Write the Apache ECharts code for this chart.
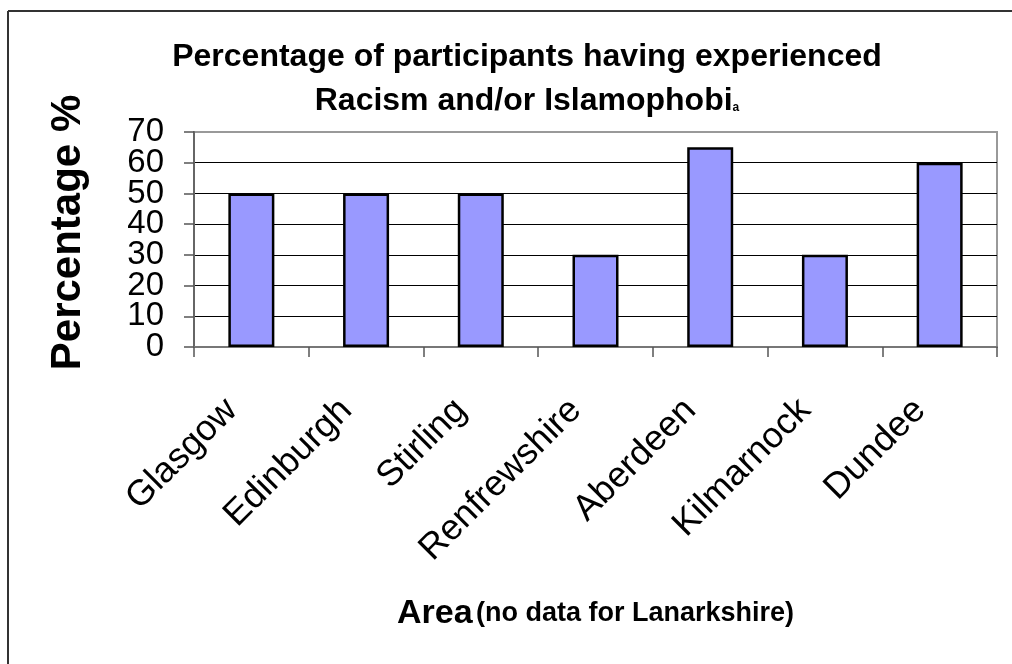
<!DOCTYPE html>
<html>
<head>
<meta charset="utf-8">
<script src="https://cdn.jsdelivr.net/npm/echarts@6/dist/echarts.min.js"></script>
<style>
  html, body { margin: 0; padding: 0; background: #fff; }
  #chart { width: 1012px; height: 664px; }
</style>
</head>
<body>
<div id="chart"></div>
<script>
// Survey areas and share of participants reporting racism and/or Islamophobia
const areas = ['Glasgow', 'Edinburgh', 'Stirling', 'Renfrewshire', 'Aberdeen', 'Kilmarnock', 'Dundee'];
const percentages = [50, 50, 50, 30, 65, 30, 60];
const yTicks = [0, 10, 20, 30, 40, 50, 60, 70];

const FONT = '"Liberation Sans", Arial, Helvetica, sans-serif';
const Y_MIN = yTicks[0];
const Y_MAX = yTicks[yTicks.length - 1];
const Y_STEP = yTicks[1] - yTicks[0];
const isEnd = v => v === Y_MIN || v === Y_MAX;

const chart = echarts.init(document.getElementById('chart'), null, { renderer: 'canvas' });

// gridlines black, except the top one which blends with the grey frame
const splitColors = yTicks.map((v, i) => (i === yTicks.length - 1 ? '#999999' : '#000000'));

const yLabelStyle = { margin: 30, fontFamily: FONT, fontSize: 33, color: '#000' };

chart.setOption({
  backgroundColor: '#ffffff',
  animation: false,
  title: {
    left: 522,
    top: 30,
    textAlign: 'center',
    text: '{t|Percentage of participants having experienced}\n{t|Racism and/or Islamophobi}{s|a}',
    textStyle: {
      rich: {
        t: { fontFamily: FONT, fontWeight: 'bold', fontSize: 32, color: '#000', lineHeight: 44 },
        s: { fontFamily: FONT, fontWeight: 'bold', fontSize: 12, color: '#000', verticalAlign: 'middle', padding: [14, 0, 0, 0] }
      }
    }
  },
  grid: {
    left: 194,
    right: 15,
    top: 132,
    bottom: 317,
    show: true,
    borderColor: '#999999',
    borderWidth: 2,
    backgroundColor: 'transparent'
  },
  xAxis: {
    type: 'category',
    data: areas,
    boundaryGap: true,
    name: '{a|Area} {b|(no data for Lanarkshire)}',
    nameLocation: 'middle',
    nameGap: 250,
    nameMoveOverlap: false,
    nameTextStyle: {
      rich: {
        a: { fontFamily: FONT, fontWeight: 'bold', fontSize: 34, color: '#000' },
        b: { fontFamily: FONT, fontWeight: 'bold', fontSize: 27, color: '#000' }
      }
    },
    axisLine: { show: true, lineStyle: { color: '#777777', width: 2 } },
    axisTick: { show: true, length: 10, alignWithLabel: false, lineStyle: { color: '#555555', width: 1.5 } },
    axisLabel: {
      rotate: 45,
      margin: 38,
      padding: [0, 28, 0, 0],
      fontFamily: FONT,
      fontSize: 36,
      color: '#000',
      interval: 0
    },
    splitLine: { show: false }
  },
  yAxis: [
    {
      // main value axis: line, ticks, gridlines and the inner tick labels
      type: 'value',
      position: 'left',
      min: Y_MIN,
      max: Y_MAX,
      interval: Y_STEP,
      name: 'Percentage %',
      nameLocation: 'middle',
      nameGap: 105,
      nameMoveOverlap: false,
      nameTextStyle: { fontFamily: FONT, fontWeight: 'bold', fontSize: 42, color: '#000', padding: [0, 0, 0, 14] },
      axisLine: { show: true, lineStyle: { color: '#666666', width: 2 } },
      axisTick: { show: true, length: 10, lineStyle: { color: '#555555', width: 1.5 } },
      axisLabel: Object.assign({}, yLabelStyle, {
        formatter: v => (isEnd(v) ? '' : String(v))
      }),
      splitLine: { show: true, lineStyle: { color: splitColors, width: 1.2 } }
    },
    {
      // same scale, carrying only the end labels (0 and 70)
      type: 'value',
      position: 'left',
      min: Y_MIN,
      max: Y_MAX,
      interval: Y_STEP,
      axisLine: { show: false },
      axisTick: { show: false },
      splitLine: { show: false },
      axisLabel: Object.assign({}, yLabelStyle, {
        showMinLabel: true,
        showMaxLabel: true,
        formatter: v => (isEnd(v) ? String(v) : '')
      })
    }
  ],
  series: [{
    type: 'bar',
    yAxisIndex: 0,
    data: percentages,
    barWidth: 46,
    itemStyle: { color: '#9999FF', borderColor: '#000000', borderWidth: 2.5 },
    emphasis: { disabled: true }
  }],
  graphic: [
    // outer frame: top and left edges
    { type: 'line', shape: { x1: 8, y1: 11, x2: 1012, y2: 11 }, style: { stroke: '#333333', lineWidth: 2 } },
    { type: 'line', shape: { x1: 8, y1: 11, x2: 8, y2: 664 }, style: { stroke: '#333333', lineWidth: 2 } }
  ]
});
</script>
</body>
</html>
